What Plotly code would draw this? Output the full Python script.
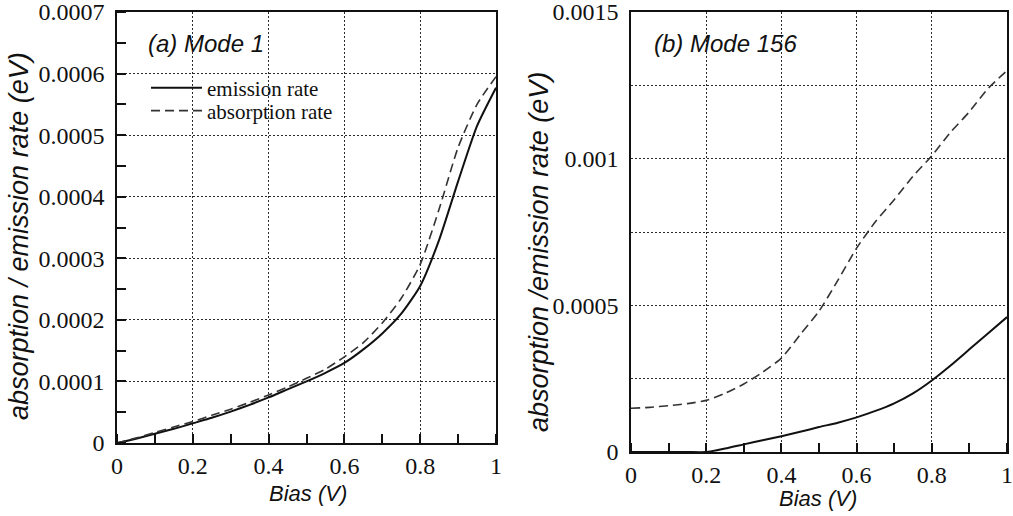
import plotly.graph_objects as go

W, H = 1013, 516

# (a) Mode 1 — bias sweep (V) and rates (eV)
bias_a = [0.0, 0.05, 0.1, 0.15, 0.2, 0.25, 0.3, 0.35, 0.4, 0.45, 0.5, 0.55, 0.6, 0.65,
          0.7, 0.75, 0.8, 0.85, 0.9, 0.95, 1.0]
emission_a = [0.0, 0.000007, 0.000015, 0.000023, 0.000032, 0.000041, 0.000051, 0.000062,
              0.000074, 0.000087, 0.0001, 0.000114, 0.00013, 0.000152, 0.000178, 0.00021,
              0.000255, 0.00033, 0.000425, 0.000515, 0.000577]
absorption_a = [0.0, 0.000008, 0.000017, 0.000026, 0.000035, 0.000045, 0.000055, 0.000066,
                0.000078, 0.000091, 0.000105, 0.00012, 0.00014, 0.000163, 0.000195, 0.000235,
                0.00029, 0.00038, 0.00048, 0.00055, 0.000595]

# (b) Mode 156
bias_b = [0.0, 0.05, 0.1, 0.15, 0.2, 0.25, 0.3, 0.35, 0.4, 0.45, 0.5, 0.55, 0.6, 0.65,
          0.7, 0.75, 0.8, 0.85, 0.9, 0.95, 1.0]
absorption_b = [0.000149, 0.000152, 0.000158, 0.000165, 0.000176, 0.0002, 0.000232, 0.000272,
                0.00032, 0.0004, 0.00048, 0.000585, 0.000695, 0.000785, 0.00086, 0.00094,
                0.00101, 0.00109, 0.00116, 0.00124, 0.0013]
emission_b = [0.0, 0.0, 0.0, 0.0, 0.0, 0.000012, 0.000026, 0.00004, 0.000054, 0.000069,
              0.000085, 0.0001, 0.000118, 0.00014, 0.000166, 0.0002, 0.000244, 0.000295,
              0.00035, 0.000405, 0.00046]

x_ticks = [0, 0.2, 0.4, 0.6, 0.8, 1]
x_labels = ["0", "0.2", "0.4", "0.6", "0.8", "1"]
y_ticks_a = [0, 0.0001, 0.0002, 0.0003, 0.0004, 0.0005, 0.0006, 0.0007]
y_labels_a = ["0", "0.0001", "0.0002", "0.0003", "0.0004", "0.0005", "0.0006", "0.0007"]
y_ticks_b = [0, 0.0005, 0.001, 0.0015]
y_labels_b = ["0", "0.0005", "0.001", "0.0015"]

SERIF = "Liberation Serif"
SANS = "Liberation Sans"
INK = "#111111"
GRID = "#2a2a2a"

fig = go.Figure()

line_em = dict(color=INK, width=2, shape="spline", smoothing=0.6)
line_ab = dict(color="#333333", width=1.6, dash="9px,5px", shape="spline", smoothing=0.6)

fig.add_trace(go.Scatter(x=bias_a, y=emission_a, mode="lines", line=line_em,
                         name="emission rate", legend="legend", xaxis="x", yaxis="y"))
fig.add_trace(go.Scatter(x=bias_a, y=absorption_a, mode="lines", line=line_ab,
                         name="absorption rate", legend="legend2", xaxis="x", yaxis="y"))
fig.add_trace(go.Scatter(x=bias_b, y=emission_b, mode="lines", line=line_em,
                         showlegend=False, xaxis="x2", yaxis="y2"))
fig.add_trace(go.Scatter(x=bias_b, y=absorption_b, mode="lines", line=line_ab,
                         showlegend=False, xaxis="x2", yaxis="y2"))


def px_x(p):
    return p / W


def px_y(p):
    return 1 - p / H


grid = dict(showgrid=True, gridcolor=GRID, griddash="1.5px,2.5px", gridwidth=1.3)
base = dict(showline=True, linecolor=INK, linewidth=1.6, mirror=True, ticks="",
            zeroline=False, automargin=False, ticklabeloverflow="allow")
minor_x = dict(dtick=0.1, ticks="inside", ticklen=9, tickcolor=INK, tickwidth=1.5,
               showgrid=False)
minor_ya = dict(dtick=0.00005, ticks="inside", ticklen=9, tickcolor=INK, tickwidth=1.5,
                showgrid=False)

dom_xa = [px_x(117), px_x(496)]
dom_ya = [px_y(443), px_y(12)]
dom_xb = [px_x(631), px_x(1007)]
dom_yb = [px_y(452), px_y(12)]
range_x = [0, 1.0000001]
range_ya = [0, 0.00070001]
range_yb = [0, 0.00150001]

# mirror axes that only carry the inward ticks on the top / right edges
mirror_ax = dict(showline=False, showgrid=False, zeroline=False, showticklabels=False,
                 ticks="", automargin=False)

legend_common = dict(xanchor="left", yanchor="middle", bgcolor="rgba(0,0,0,0)",
                     font=dict(family=SERIF, size=21, color=INK), itemwidth=51,
                     borderwidth=0, tracegroupgap=0)

fig.update_layout(
    template="none",
    width=W, height=H,
    font=dict(family=SERIF, size=24, color=INK),
    margin=dict(l=0, r=0, t=0, b=0, pad=0),
    paper_bgcolor="white", plot_bgcolor="white",
    showlegend=True,
    legend=dict(legend_common, x=px_x(146), y=px_y(88)),
    legend2=dict(legend_common, x=px_x(146), y=px_y(111)),
    xaxis=dict(base, **grid, domain=dom_xa, anchor="y", range=range_x, ticklabelstandoff=0,
               tickmode="array", tickvals=x_ticks, ticktext=x_labels, minor=minor_x),
    yaxis=dict(base, **grid, domain=dom_ya, anchor="x", range=range_ya, ticklabelstandoff=6,
               tickmode="array", tickvals=y_ticks_a, ticktext=y_labels_a, minor=minor_ya),
    xaxis2=dict(base, **grid, domain=dom_xb, anchor="y2", range=range_x, ticklabelstandoff=0,
                tickmode="array", tickvals=x_ticks, ticktext=x_labels, minor=minor_x),
    yaxis2=dict(base, **grid, domain=dom_yb, anchor="x2", range=range_yb, ticklabelstandoff=6,
                tickmode="array", tickvals=y_ticks_b, ticktext=y_labels_b,
                minor=dict(dtick=0.00025, ticks="", showgrid=True, gridcolor=GRID,
                           griddash="1.5px,2.5px", gridwidth=1.3)),
    xaxis3=dict(mirror_ax, overlaying="x", side="top", anchor="y", range=range_x,
                tickvals=[], minor=minor_x),
    yaxis3=dict(mirror_ax, overlaying="y", side="right", anchor="x", range=range_ya,
                tickvals=[], minor=minor_ya),
    xaxis4=dict(mirror_ax, overlaying="x2", side="top", anchor="y2", range=range_x,
                tickvals=[], minor=minor_x),
)
fig.update_xaxes(tickfont=dict(family=SERIF, size=24, color=INK))
fig.update_yaxes(tickfont=dict(family=SERIF, size=24, color=INK))

annotations = [
    dict(text="<i>(a) Mode 1</i>", x=px_x(146), y=px_y(43), xanchor="left",
         font=dict(family=SANS, size=24, color=INK)),
    dict(text="<i>(b) Mode 156</i>", x=px_x(652), y=px_y(43), xanchor="left",
         font=dict(family=SANS, size=24, color=INK)),
    dict(text="<i>Bias (V)</i>", x=px_x(308), y=px_y(493), xanchor="center",
         font=dict(family=SANS, size=22, color=INK)),
    dict(text="<i>Bias (V)</i>", x=px_x(818), y=px_y(498), xanchor="center",
         font=dict(family=SANS, size=22, color=INK)),
    dict(text="<i>absorption / emission rate (eV)</i>", x=px_x(19), y=px_y(236),
         xanchor="center", textangle=-90, font=dict(family=SANS, size=27, color=INK)),
    dict(text="<i>absorption /emission rate (eV)</i>", x=px_x(539), y=px_y(252),
         xanchor="center", textangle=-90, font=dict(family=SANS, size=27, color=INK)),
]
for a in annotations:
    a.update(xref="paper", yref="paper", yanchor="middle", showarrow=False)
fig.update_layout(annotations=annotations)

fig.write_html("out.html")
